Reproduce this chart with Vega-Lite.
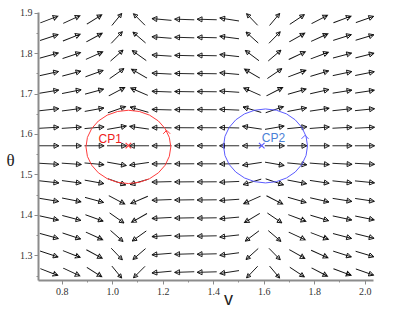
{
"$schema":"https://vega.github.io/schema/vega-lite/v6.json",
"width":335,"height":268,
"autosize":{"type":"none"},
"padding":{"left":38,"top":12,"right":34,"bottom":30},
"background":"white",
"config":{"view":{"stroke":null}},
"datasets":{
"field":[
{"v":0.75,"theta":1.883,"dir":21.1,"len":0.96},{"v":0.75,"theta":1.8384,"dir":18.3,"len":0.97},{"v":0.75,"theta":1.7938,"dir":15.4,"len":0.98},{"v":0.75,"theta":1.7492,"dir":12.4,"len":0.98},{"v":0.75,"theta":1.7046,"dir":9.4,"len":0.99},{"v":0.75,"theta":1.66,"dir":6.3,"len":1},{"v":0.75,"theta":1.6154,"dir":3.2,"len":1},{"v":0.75,"theta":1.5708,"dir":0,"len":1},{"v":0.75,"theta":1.5262,"dir":-3.2,"len":1},{"v":0.75,"theta":1.4816,"dir":-6.3,"len":1},{"v":0.75,"theta":1.437,"dir":-9.4,"len":0.99},{"v":0.75,"theta":1.3924,"dir":-12.4,"len":0.98},{"v":0.75,"theta":1.3478,"dir":-15.4,"len":0.98},{"v":0.75,"theta":1.3032,"dir":-18.3,"len":0.97},{"v":0.75,"theta":1.2586,"dir":-21.1,"len":0.96},
{"v":0.839,"theta":1.883,"dir":24.8,"len":0.94},{"v":0.839,"theta":1.8384,"dir":21.6,"len":0.95},{"v":0.839,"theta":1.7938,"dir":18.3,"len":0.97},{"v":0.839,"theta":1.7492,"dir":14.8,"len":0.98},{"v":0.839,"theta":1.7046,"dir":11.2,"len":0.99},{"v":0.839,"theta":1.66,"dir":7.5,"len":0.99},{"v":0.839,"theta":1.6154,"dir":3.8,"len":1},{"v":0.839,"theta":1.5708,"dir":0,"len":1},{"v":0.839,"theta":1.5262,"dir":-3.8,"len":1},{"v":0.839,"theta":1.4816,"dir":-7.5,"len":0.99},{"v":0.839,"theta":1.437,"dir":-11.2,"len":0.99},{"v":0.839,"theta":1.3924,"dir":-14.8,"len":0.98},{"v":0.839,"theta":1.3478,"dir":-18.3,"len":0.97},{"v":0.839,"theta":1.3032,"dir":-21.6,"len":0.95},{"v":0.839,"theta":1.2586,"dir":-24.8,"len":0.94},
{"v":0.929,"theta":1.883,"dir":32.2,"len":0.9},{"v":0.929,"theta":1.8384,"dir":28.4,"len":0.92},{"v":0.929,"theta":1.7938,"dir":24.2,"len":0.94},{"v":0.929,"theta":1.7492,"dir":19.8,"len":0.96},{"v":0.929,"theta":1.7046,"dir":15.1,"len":0.98},{"v":0.929,"theta":1.66,"dir":10.2,"len":0.99},{"v":0.929,"theta":1.6154,"dir":5.1,"len":1},{"v":0.929,"theta":1.5708,"dir":0,"len":1},{"v":0.929,"theta":1.5262,"dir":-5.1,"len":1},{"v":0.929,"theta":1.4816,"dir":-10.2,"len":0.99},{"v":0.929,"theta":1.437,"dir":-15.1,"len":0.98},{"v":0.929,"theta":1.3924,"dir":-19.8,"len":0.96},{"v":0.929,"theta":1.3478,"dir":-24.2,"len":0.94},{"v":0.929,"theta":1.3032,"dir":-28.4,"len":0.92},{"v":0.929,"theta":1.2586,"dir":-32.2,"len":0.9},
{"v":1.018,"theta":1.883,"dir":50.8,"len":0.79},{"v":1.018,"theta":1.8384,"dir":46.4,"len":0.82},{"v":1.018,"theta":1.7938,"dir":41.2,"len":0.85},{"v":1.018,"theta":1.7492,"dir":35.0,"len":0.89},{"v":1.018,"theta":1.7046,"dir":27.7,"len":0.92},{"v":1.018,"theta":1.66,"dir":19.3,"len":0.96},{"v":1.018,"theta":1.6154,"dir":9.9,"len":0.99},{"v":1.018,"theta":1.5708,"dir":0,"len":1},{"v":1.018,"theta":1.5262,"dir":-9.9,"len":0.99},{"v":1.018,"theta":1.4816,"dir":-19.3,"len":0.96},{"v":1.018,"theta":1.437,"dir":-27.7,"len":0.92},{"v":1.018,"theta":1.3924,"dir":-35.0,"len":0.89},{"v":1.018,"theta":1.3478,"dir":-41.2,"len":0.85},{"v":1.018,"theta":1.3032,"dir":-46.4,"len":0.82},{"v":1.018,"theta":1.2586,"dir":-50.8,"len":0.79},
{"v":1.107,"theta":1.883,"dir":135.0,"len":0.83},{"v":1.107,"theta":1.8384,"dir":139.4,"len":0.85},{"v":1.107,"theta":1.7938,"dir":144.4,"len":0.88},{"v":1.107,"theta":1.7492,"dir":150.2,"len":0.91},{"v":1.107,"theta":1.7046,"dir":156.8,"len":0.95},{"v":1.107,"theta":1.66,"dir":164.0,"len":0.97},{"v":1.107,"theta":1.6154,"dir":171.9,"len":0.99},{"v":1.107,"theta":1.5708,"dir":180,"len":1},{"v":1.107,"theta":1.5262,"dir":-171.9,"len":0.99},{"v":1.107,"theta":1.4816,"dir":-164.0,"len":0.97},{"v":1.107,"theta":1.437,"dir":-156.8,"len":0.95},{"v":1.107,"theta":1.3924,"dir":-150.2,"len":0.91},{"v":1.107,"theta":1.3478,"dir":-144.4,"len":0.88},{"v":1.107,"theta":1.3032,"dir":-139.4,"len":0.85},{"v":1.107,"theta":1.2586,"dir":-135.0,"len":0.83},
{"v":1.196,"theta":1.883,"dir":174.8,"len":1},{"v":1.196,"theta":1.8384,"dir":175.5,"len":1},{"v":1.196,"theta":1.7938,"dir":176.3,"len":1},{"v":1.196,"theta":1.7492,"dir":177.0,"len":1},{"v":1.196,"theta":1.7046,"dir":177.8,"len":1},{"v":1.196,"theta":1.66,"dir":178.5,"len":1},{"v":1.196,"theta":1.6154,"dir":179.3,"len":1},{"v":1.196,"theta":1.5708,"dir":180,"len":1},{"v":1.196,"theta":1.5262,"dir":-179.3,"len":1},{"v":1.196,"theta":1.4816,"dir":-178.5,"len":1},{"v":1.196,"theta":1.437,"dir":-177.8,"len":1},{"v":1.196,"theta":1.3924,"dir":-177.0,"len":1},{"v":1.196,"theta":1.3478,"dir":-176.3,"len":1},{"v":1.196,"theta":1.3032,"dir":-175.5,"len":1},{"v":1.196,"theta":1.2586,"dir":-174.8,"len":1},
{"v":1.286,"theta":1.883,"dir":178.0,"len":1},{"v":1.286,"theta":1.8384,"dir":178.3,"len":1},{"v":1.286,"theta":1.7938,"dir":178.6,"len":1},{"v":1.286,"theta":1.7492,"dir":178.9,"len":1},{"v":1.286,"theta":1.7046,"dir":179.1,"len":1},{"v":1.286,"theta":1.66,"dir":179.4,"len":1},{"v":1.286,"theta":1.6154,"dir":179.7,"len":1},{"v":1.286,"theta":1.5708,"dir":180,"len":1},{"v":1.286,"theta":1.5262,"dir":-179.7,"len":1},{"v":1.286,"theta":1.4816,"dir":-179.4,"len":1},{"v":1.286,"theta":1.437,"dir":-179.1,"len":1},{"v":1.286,"theta":1.3924,"dir":-178.9,"len":1},{"v":1.286,"theta":1.3478,"dir":-178.6,"len":1},{"v":1.286,"theta":1.3032,"dir":-178.3,"len":1},{"v":1.286,"theta":1.2586,"dir":-178.0,"len":1},
{"v":1.375,"theta":1.883,"dir":178.4,"len":1},{"v":1.375,"theta":1.8384,"dir":178.6,"len":1},{"v":1.375,"theta":1.7938,"dir":178.9,"len":1},{"v":1.375,"theta":1.7492,"dir":179.1,"len":1},{"v":1.375,"theta":1.7046,"dir":179.3,"len":1},{"v":1.375,"theta":1.66,"dir":179.5,"len":1},{"v":1.375,"theta":1.6154,"dir":179.8,"len":1},{"v":1.375,"theta":1.5708,"dir":180,"len":1},{"v":1.375,"theta":1.5262,"dir":-179.8,"len":1},{"v":1.375,"theta":1.4816,"dir":-179.5,"len":1},{"v":1.375,"theta":1.437,"dir":-179.3,"len":1},{"v":1.375,"theta":1.3924,"dir":-179.1,"len":1},{"v":1.375,"theta":1.3478,"dir":-178.9,"len":1},{"v":1.375,"theta":1.3032,"dir":-178.6,"len":1},{"v":1.375,"theta":1.2586,"dir":-178.4,"len":1},
{"v":1.464,"theta":1.883,"dir":171.2,"len":0.99},{"v":1.464,"theta":1.8384,"dir":172.5,"len":0.99},{"v":1.464,"theta":1.7938,"dir":173.7,"len":0.99},{"v":1.464,"theta":1.7492,"dir":175.0,"len":0.99},{"v":1.464,"theta":1.7046,"dir":176.2,"len":1},{"v":1.464,"theta":1.66,"dir":177.5,"len":1},{"v":1.464,"theta":1.6154,"dir":178.7,"len":1},{"v":1.464,"theta":1.5708,"dir":180,"len":1},{"v":1.464,"theta":1.5262,"dir":-178.7,"len":1},{"v":1.464,"theta":1.4816,"dir":-177.5,"len":1},{"v":1.464,"theta":1.437,"dir":-176.2,"len":1},{"v":1.464,"theta":1.3924,"dir":-175.0,"len":0.99},{"v":1.464,"theta":1.3478,"dir":-173.7,"len":0.99},{"v":1.464,"theta":1.3032,"dir":-172.5,"len":0.99},{"v":1.464,"theta":1.2586,"dir":-171.2,"len":0.99},
{"v":1.554,"theta":1.883,"dir":133.6,"len":0.82},{"v":1.554,"theta":1.8384,"dir":138.0,"len":0.84},{"v":1.554,"theta":1.7938,"dir":143.1,"len":0.87},{"v":1.554,"theta":1.7492,"dir":149.0,"len":0.91},{"v":1.554,"theta":1.7046,"dir":155.8,"len":0.94},{"v":1.554,"theta":1.66,"dir":163.3,"len":0.97},{"v":1.554,"theta":1.6154,"dir":171.5,"len":0.99},{"v":1.554,"theta":1.5708,"dir":180,"len":1},{"v":1.554,"theta":1.5262,"dir":-171.5,"len":0.99},{"v":1.554,"theta":1.4816,"dir":-163.3,"len":0.97},{"v":1.554,"theta":1.437,"dir":-155.8,"len":0.94},{"v":1.554,"theta":1.3924,"dir":-149.0,"len":0.91},{"v":1.554,"theta":1.3478,"dir":-143.1,"len":0.87},{"v":1.554,"theta":1.3032,"dir":-138.0,"len":0.84},{"v":1.554,"theta":1.2586,"dir":-133.6,"len":0.82},
{"v":1.643,"theta":1.883,"dir":50.0,"len":0.8},{"v":1.643,"theta":1.8384,"dir":45.6,"len":0.82},{"v":1.643,"theta":1.7938,"dir":40.4,"len":0.85},{"v":1.643,"theta":1.7492,"dir":34.2,"len":0.89},{"v":1.643,"theta":1.7046,"dir":27.0,"len":0.93},{"v":1.643,"theta":1.66,"dir":18.8,"len":0.96},{"v":1.643,"theta":1.6154,"dir":9.7,"len":0.99},{"v":1.643,"theta":1.5708,"dir":0,"len":1},{"v":1.643,"theta":1.5262,"dir":-9.7,"len":0.99},{"v":1.643,"theta":1.4816,"dir":-18.8,"len":0.96},{"v":1.643,"theta":1.437,"dir":-27.0,"len":0.93},{"v":1.643,"theta":1.3924,"dir":-34.2,"len":0.89},{"v":1.643,"theta":1.3478,"dir":-40.4,"len":0.85},{"v":1.643,"theta":1.3032,"dir":-45.6,"len":0.82},{"v":1.643,"theta":1.2586,"dir":-50.0,"len":0.8},
{"v":1.732,"theta":1.883,"dir":33.6,"len":0.89},{"v":1.732,"theta":1.8384,"dir":29.7,"len":0.91},{"v":1.732,"theta":1.7938,"dir":25.4,"len":0.94},{"v":1.732,"theta":1.7492,"dir":20.8,"len":0.96},{"v":1.732,"theta":1.7046,"dir":15.9,"len":0.97},{"v":1.732,"theta":1.66,"dir":10.8,"len":0.99},{"v":1.732,"theta":1.6154,"dir":5.4,"len":1},{"v":1.732,"theta":1.5708,"dir":0,"len":1},{"v":1.732,"theta":1.5262,"dir":-5.4,"len":1},{"v":1.732,"theta":1.4816,"dir":-10.8,"len":0.99},{"v":1.732,"theta":1.437,"dir":-15.9,"len":0.97},{"v":1.732,"theta":1.3924,"dir":-20.8,"len":0.96},{"v":1.732,"theta":1.3478,"dir":-25.4,"len":0.94},{"v":1.732,"theta":1.3032,"dir":-29.7,"len":0.91},{"v":1.732,"theta":1.2586,"dir":-33.6,"len":0.89},
{"v":1.821,"theta":1.883,"dir":27.7,"len":0.92},{"v":1.821,"theta":1.8384,"dir":24.2,"len":0.94},{"v":1.821,"theta":1.7938,"dir":20.6,"len":0.96},{"v":1.821,"theta":1.7492,"dir":16.7,"len":0.97},{"v":1.821,"theta":1.7046,"dir":12.7,"len":0.98},{"v":1.821,"theta":1.66,"dir":8.5,"len":0.99},{"v":1.821,"theta":1.6154,"dir":4.3,"len":1},{"v":1.821,"theta":1.5708,"dir":0,"len":1},{"v":1.821,"theta":1.5262,"dir":-4.3,"len":1},{"v":1.821,"theta":1.4816,"dir":-8.5,"len":0.99},{"v":1.821,"theta":1.437,"dir":-12.7,"len":0.98},{"v":1.821,"theta":1.3924,"dir":-16.7,"len":0.97},{"v":1.821,"theta":1.3478,"dir":-20.6,"len":0.96},{"v":1.821,"theta":1.3032,"dir":-24.2,"len":0.94},{"v":1.821,"theta":1.2586,"dir":-27.7,"len":0.92},
{"v":1.911,"theta":1.883,"dir":20.4,"len":0.96},{"v":1.911,"theta":1.8384,"dir":17.6,"len":0.97},{"v":1.911,"theta":1.7938,"dir":14.8,"len":0.98},{"v":1.911,"theta":1.7492,"dir":12.0,"len":0.99},{"v":1.911,"theta":1.7046,"dir":9.0,"len":0.99},{"v":1.911,"theta":1.66,"dir":6.1,"len":1},{"v":1.911,"theta":1.6154,"dir":3.0,"len":1},{"v":1.911,"theta":1.5708,"dir":0,"len":1},{"v":1.911,"theta":1.5262,"dir":-3.0,"len":1},{"v":1.911,"theta":1.4816,"dir":-6.1,"len":1},{"v":1.911,"theta":1.437,"dir":-9.0,"len":0.99},{"v":1.911,"theta":1.3924,"dir":-12.0,"len":0.99},{"v":1.911,"theta":1.3478,"dir":-14.8,"len":0.98},{"v":1.911,"theta":1.3032,"dir":-17.6,"len":0.97},{"v":1.911,"theta":1.2586,"dir":-20.4,"len":0.96},
{"v":2.0,"theta":1.883,"dir":19.3,"len":0.96},{"v":2.0,"theta":1.8384,"dir":16.7,"len":0.97},{"v":2.0,"theta":1.7938,"dir":14.0,"len":0.98},{"v":2.0,"theta":1.7492,"dir":11.3,"len":0.99},{"v":2.0,"theta":1.7046,"dir":8.5,"len":0.99},{"v":2.0,"theta":1.66,"dir":5.7,"len":1},{"v":2.0,"theta":1.6154,"dir":2.9,"len":1},{"v":2.0,"theta":1.5708,"dir":0,"len":1},{"v":2.0,"theta":1.5262,"dir":-2.9,"len":1},{"v":2.0,"theta":1.4816,"dir":-5.7,"len":1},{"v":2.0,"theta":1.437,"dir":-8.5,"len":0.99},{"v":2.0,"theta":1.3924,"dir":-11.3,"len":0.99},{"v":2.0,"theta":1.3478,"dir":-14.0,"len":0.98},{"v":2.0,"theta":1.3032,"dir":-16.7,"len":0.97},{"v":2.0,"theta":1.2586,"dir":-19.3,"len":0.96}
],
"orbits":[
{"cp":"CP1","i":0,"v":1.232,"theta":1.568},{"cp":"CP1","i":1,"v":1.226,"theta":1.5915},{"cp":"CP1","i":2,"v":1.2095,"theta":1.6133},{"cp":"CP1","i":3,"v":1.1828,"theta":1.6321},{"cp":"CP1","i":4,"v":1.148,"theta":1.6465},{"cp":"CP1","i":5,"v":1.1075,"theta":1.6555},{"cp":"CP1","i":6,"v":1.064,"theta":1.6586},{"cp":"CP1","i":7,"v":1.0205,"theta":1.6555},{"cp":"CP1","i":8,"v":0.98,"theta":1.6465},{"cp":"CP1","i":9,"v":0.9452,"theta":1.6321},{"cp":"CP1","i":10,"v":0.9185,"theta":1.6133},{"cp":"CP1","i":11,"v":0.9017,"theta":1.5915},{"cp":"CP1","i":12,"v":0.896,"theta":1.568},{"cp":"CP1","i":13,"v":0.9017,"theta":1.5445},{"cp":"CP1","i":14,"v":0.9185,"theta":1.5227},{"cp":"CP1","i":15,"v":0.9452,"theta":1.5039},{"cp":"CP1","i":16,"v":0.98,"theta":1.4895},{"cp":"CP1","i":17,"v":1.0205,"theta":1.4805},{"cp":"CP1","i":18,"v":1.064,"theta":1.4774},{"cp":"CP1","i":19,"v":1.1075,"theta":1.4805},{"cp":"CP1","i":20,"v":1.148,"theta":1.4895},{"cp":"CP1","i":21,"v":1.1828,"theta":1.5039},{"cp":"CP1","i":22,"v":1.2095,"theta":1.5227},{"cp":"CP1","i":23,"v":1.226,"theta":1.5445},{"cp":"CP1","i":24,"v":1.232,"theta":1.568},
{"cp":"CP2","i":0,"v":1.7733,"theta":1.5704},{"cp":"CP2","i":1,"v":1.7676,"theta":1.5941},{"cp":"CP2","i":2,"v":1.751,"theta":1.6161},{"cp":"CP2","i":3,"v":1.7246,"theta":1.635},{"cp":"CP2","i":4,"v":1.6902,"theta":1.6496},{"cp":"CP2","i":5,"v":1.6501,"theta":1.6587},{"cp":"CP2","i":6,"v":1.607,"theta":1.6618},{"cp":"CP2","i":7,"v":1.5639,"theta":1.6587},{"cp":"CP2","i":8,"v":1.5238,"theta":1.6496},{"cp":"CP2","i":9,"v":1.4894,"theta":1.635},{"cp":"CP2","i":10,"v":1.463,"theta":1.6161},{"cp":"CP2","i":11,"v":1.4464,"theta":1.5941},{"cp":"CP2","i":12,"v":1.4407,"theta":1.5704},{"cp":"CP2","i":13,"v":1.4464,"theta":1.5467},{"cp":"CP2","i":14,"v":1.463,"theta":1.5247},{"cp":"CP2","i":15,"v":1.4894,"theta":1.5058},{"cp":"CP2","i":16,"v":1.5238,"theta":1.4912},{"cp":"CP2","i":17,"v":1.5639,"theta":1.4821},{"cp":"CP2","i":18,"v":1.607,"theta":1.479},{"cp":"CP2","i":19,"v":1.6501,"theta":1.4821},{"cp":"CP2","i":20,"v":1.6902,"theta":1.4912},{"cp":"CP2","i":21,"v":1.7246,"theta":1.5058},{"cp":"CP2","i":22,"v":1.751,"theta":1.5247},{"cp":"CP2","i":23,"v":1.7676,"theta":1.5467},{"cp":"CP2","i":24,"v":1.7733,"theta":1.5704}
],
"chevrons":[{"cp":"CP1","v":1.2157,"theta":1.6056},{"cp":"CP2","v":1.7634,"theta":1.5932}],
"cps":[{"cp":"CP1","v":1.064,"theta":1.5712},{"cp":"CP2","v":1.592,"theta":1.5712}]
},
"resolve":{"axis":{"x":"independent","y":"independent"}},
"layer":[
{
"data":{"name":"field"},
"mark":{"type":"point","shape":"M-1,0L1,0M1,0L0.5,-0.26L0.5,0.26Z","filled":false,"color":"#111111","strokeWidth":0.9,"opacity":1},
"encoding":{
"x":{"field":"v","type":"quantitative","scale":{"domain":[0.706,2.0327],"nice":false,"zero":false},
"axis":{"orient":"bottom","values":[0.8,1.0,1.2,1.4,1.6,1.8,2.0],"format":".1f","grid":false,"labelOverlap":false,"labelFlush":false,"domainColor":"#8c8c8c","domainWidth":2,"tickColor":"#8c8c8c","tickWidth":1,"tickSize":4,"labelFont":"Liberation Serif, serif","labelFontSize":10,"labelColor":"#333333","labelPadding":2,"title":"v","titleFont":"Liberation Sans","titleFontSize":18,"titleFontWeight":"normal","titleColor":"#222222","titleX":190,"titleY":24,"titleAlign":"center","titleBaseline":"alphabetic"}},
"y":{"field":"theta","type":"quantitative","scale":{"domain":[1.239,1.9015],"nice":false,"zero":false},
"axis":{"orient":"left","values":[1.3,1.4,1.5,1.6,1.7,1.8,1.9],"format":".1f","grid":false,"labelOverlap":false,"labelFlush":false,"domainColor":"#8c8c8c","domainWidth":2,"tickColor":"#8c8c8c","tickWidth":1,"tickSize":4,"labelFont":"Liberation Serif, serif","labelFontSize":10,"labelColor":"#333333","labelPadding":2,"title":"θ","titleAngle":0,"titleFont":"Liberation Serif, serif","titleFontSize":17,"titleFontWeight":"normal","titleColor":"#222222","titleX":-28,"titleY":148,"titleAlign":"center","titleBaseline":"middle"}},
"angle":{"field":"dir","type":"quantitative","scale":{"domain":[-180,180],"range":[180,-180]},"legend":null},
"size":{"field":"len","type":"quantitative","scale":{"type":"pow","exponent":2,"domain":[0,1],"range":[0,385]},"legend":null}
}
},
{
"data":{"name":"orbits"},
"mark":{"type":"line","strokeWidth":1},
"encoding":{
"x":{"field":"v","type":"quantitative","axis":{"orient":"bottom","values":[0.9,1.1,1.3,1.5,1.7,1.9],"labels":false,"domain":false,"grid":false,"title":null,"tickSize":2,"tickColor":"#8c8c8c"}},
"y":{"field":"theta","type":"quantitative","axis":{"orient":"left","values":[1.25,1.35,1.45,1.55,1.65,1.75,1.85],"labels":false,"domain":false,"grid":false,"title":null,"tickSize":2,"tickColor":"#8c8c8c"}},
"color":{"field":"cp","type":"nominal","scale":{"domain":["CP1","CP2"],"range":["#ff3c3c","#5c5cff"]},"legend":null},
"order":{"field":"i","type":"quantitative"}
}
},
{
"data":{"name":"chevrons"},
"mark":{"type":"point","shape":"M-1,0.6L0,-0.4L1,0.6","filled":false,"size":49,"strokeWidth":1,"opacity":1},
"encoding":{
"x":{"field":"v","type":"quantitative","axis":null},
"y":{"field":"theta","type":"quantitative","axis":null},
"stroke":{"field":"cp","type":"nominal","scale":{"domain":["CP1","CP2"],"range":["#ff3c3c","#5c5cff"]},"legend":null}
}
},
{
"data":{"name":"cps"},
"mark":{"type":"point","shape":"M-0.7,-0.7L0.7,0.7M-0.7,0.7L0.7,-0.7","filled":false,"size":64,"strokeWidth":1.2,"opacity":1},
"encoding":{
"x":{"field":"v","type":"quantitative","axis":null},
"y":{"field":"theta","type":"quantitative","axis":null},
"stroke":{"field":"cp","type":"nominal","legend":null}
}
},
{
"data":{"name":"cps"},
"transform":[{"filter":"datum.cp == 'CP1'"}],
"mark":{"type":"text","align":"right","baseline":"alphabetic","dx":-6.5,"dy":-2.5,"font":"Liberation Sans Narrow, Liberation Sans","fontSize":12,"color":"#ee2020"},
"encoding":{
"x":{"field":"v","type":"quantitative","axis":null},
"y":{"field":"theta","type":"quantitative","axis":null},
"text":{"field":"cp"}
}
},
{
"data":{"name":"cps"},
"transform":[{"filter":"datum.cp == 'CP2'"}],
"mark":{"type":"text","align":"left","baseline":"alphabetic","dx":0,"dy":-4,"font":"Liberation Sans Narrow, Liberation Sans","fontSize":12,"color":"#4a80d6"},
"encoding":{
"x":{"field":"v","type":"quantitative","axis":null},
"y":{"field":"theta","type":"quantitative","axis":null},
"text":{"field":"cp"}
}
}
]
}
